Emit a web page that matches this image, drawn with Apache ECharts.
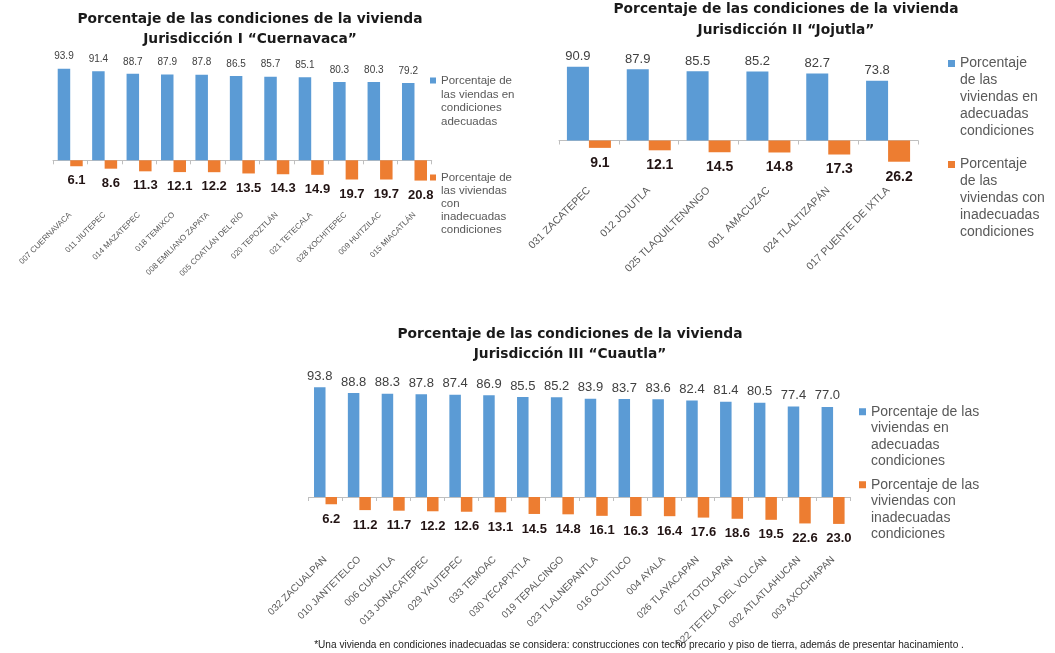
<!DOCTYPE html>
<html>
<head>
<meta charset="utf-8">
<script src="https://cdn.jsdelivr.net/npm/echarts@6/dist/echarts.min.js"></script>
<style>
html,body{margin:0;padding:0;background:#fff;}
#c{width:1055px;height:653px;}
</style>
</head>
<body>
<div id="c"></div>
<script>
// ---------- DATA ----------
var title1 = "Porcentaje de las condiciones de la vivienda\nJurisdicción I “Cuernavaca”";
var title2 = "Porcentaje de las condiciones de la vivienda\nJurisdicción II “Jojutla”";
var title3 = "Porcentaje de las condiciones de la vivienda\nJurisdicción III “Cuautla”";
var footnote = "*Una vivienda en condiciones inadecuadas se considera: construcciones con techo precario y piso de tierra, además de presentar hacinamiento .";

var cat1 = ["007 CUERNAVACA","011 JIUTEPEC","014 MAZATEPEC","018 TEMIXCO","008 EMILIANO ZAPATA","005 COATLÁN DEL RÍO","020 TEPOZTLÁN","021 TETECALA","028 XOCHITEPEC","009 HUITZILAC","015 MIACATLÁN"];
var adec1 = [93.9,91.4,88.7,87.9,87.8,86.5,85.7,85.1,80.3,80.3,79.2];
var inad1 = [6.1,8.6,11.3,12.1,12.2,13.5,14.3,14.9,19.7,19.7,20.8];
var name1a = "Porcentaje de\nlas viendas en\ncondiciones\nadecuadas";
var name1b = "Porcentaje de\nlas viviendas\ncon\ninadecuadas\ncondiciones";

var cat2 = ["031 ZACATEPEC","012 JOJUTLA","025 TLAQUILTENANGO","001  AMACUZAC","024 TLALTIZAPÁN","017 PUENTE DE IXTLA"];
var adec2 = [90.9,87.9,85.5,85.2,82.7,73.8];
var inad2 = [9.1,12.1,14.5,14.8,17.3,26.2];
var name2a = "Porcentaje\nde las\nviviendas en\nadecuadas\ncondiciones";
var name2b = "Porcentaje\nde las\nviviendas con\ninadecuadas\ncondiciones";

var cat3 = ["032 ZACUALPAN","010 JANTETELCO","006 CUAUTLA","013 JONACATEPEC","029 YAUTEPEC","033 TEMOAC","030 YECAPIXTLA","019 TEPALCINGO","023 TLALNEPANTLA","016 OCUITUCO","004 AYALA","026 TLAYACAPAN","027 TOTOLAPAN","022 TETELA DEL VOLCÁN","002 ATLATLAHUCAN","003 AXOCHIAPAN"];
var adec3 = [93.8,88.8,88.3,87.8,87.4,86.9,85.5,85.2,83.9,83.7,83.6,82.4,81.4,80.5,77.4,77.0];
var inad3 = [6.2,11.2,11.7,12.2,12.6,13.1,14.5,14.8,16.1,16.3,16.4,17.6,18.6,19.5,22.6,23.0];
var name3a = "Porcentaje de las\nviviendas en\nadecuadas\ncondiciones";
var name3b = "Porcentaje de las\nviviendas con\ninadecuadas\ncondiciones";

// ---------- STYLE ----------
var BLUE = "#5B9BD5", ORANGE = "#ED7D31";
var FONT = "Liberation Sans";
var AXIS = "#BFBFBF";

function neg(a){ return a.map(function(v){ return -v; }); }
function fmt(p){ return Math.abs(p.value).toFixed(1); }

function xAx(gi, cats, fs, margin){
  return {
    type: "category", gridIndex: gi, data: cats,
    axisLine: {show: true, onZero: true, lineStyle: {color: AXIS, width: 1}},
    axisTick: {show: true, length: 4, lineStyle: {color: AXIS}},
    axisLabel: {interval: 0, rotate: 45, margin: margin, fontSize: fs, color: "#595959", fontFamily: FONT},
    splitLine: {show: false}
  };
}
function yAx(gi){
  return {type: "value", gridIndex: gi, min: -30, max: 100, show: false, splitLine: {show: false}};
}
function blueS(name, gi, data, bw, fs, dist){
  return {
    name: name, type: "bar", xAxisIndex: gi, yAxisIndex: gi, data: data,
    barWidth: bw, barGap: "0%", itemStyle: {color: BLUE},
    label: {show: true, position: "top", distance: dist, formatter: fmt,
            fontSize: fs, color: "#404040", fontFamily: FONT}
  };
}
function orangeS(name, gi, data, bw, fs, dist){
  return {
    name: name, type: "bar", xAxisIndex: gi, yAxisIndex: gi, data: neg(data),
    barWidth: bw, barGap: "0%", itemStyle: {color: ORANGE},
    label: {show: true, position: "bottom", distance: dist, formatter: fmt,
            fontSize: fs, fontWeight: "bold", color: "#221414", fontFamily: FONT}
  };
}
// legend item whose square sits beside the first text line
function leg(name, left, firstY, lh, fs, s){
  var n = name.split("\n").length;
  var H = n * lh;
  var y1 = lh / 2 - s / 2, y2 = y1 + s;
  var icon = "path://M0,0L0.01,0Z" +
             "M0," + y1 + "L" + s + "," + y1 + "L" + s + "," + y2 + "L0," + y2 + "Z" +
             "M0," + H + "L0.01," + H + "Z";
  return {
    data: [name], orient: "vertical", left: left, top: firstY - lh / 2,
    padding: 0, itemWidth: s, itemHeight: H, icon: icon, selectedMode: false,
    itemStyle: {borderWidth: 0},
    textStyle: {fontSize: fs, lineHeight: lh, color: "#595959", fontFamily: FONT}
  };
}
function ttl(text, cx, top, lh){
  return {
    text: text, left: cx, top: top, textAlign: "center", padding: 0,
    textStyle: {fontFamily: "DejaVu Sans", fontWeight: "bold", fontSize: 13.8,
                lineHeight: lh, color: "#1a1a1a"}
  };
}

var chart = echarts.init(document.getElementById("c"), null, {renderer: "canvas"});
chart.setOption({
  animation: false,
  backgroundColor: "#ffffff",
  title: [
    ttl(title1, 250, 9, 20),
    ttl(title2, 786, -1, 21),
    ttl(title3, 570, 324, 20.3),
    {text: footnote, left: 639, top: 640, textAlign: "center", padding: 0,
     textStyle: {fontFamily: FONT, fontWeight: "normal", fontSize: 10.1, color: "#222"}}
  ],
  legend: [
    leg(name1a, 430, 80.5, 13.9, 11.5, 6),
    leg(name1b, 430, 177.5, 13.2, 11.5, 6),
    leg(name2a, 948, 63.5, 16.8, 14, 7),
    leg(name2b, 948, 164.5, 17, 14, 7),
    leg(name3a, 859, 411.7, 16.5, 14, 7),
    leg(name3b, 859, 484.8, 16.5, 14, 7)
  ],
  grid: [
    {left: 53, top: 62.8, width: 378.7, height: 126.75, outerBoundsMode: "none", containLabel: false},
    {left: 559, top: 59.5, width: 359, height: 105.3, outerBoundsMode: "none", containLabel: false},
    {left: 308.6, top: 380, width: 541.4, height: 152.1, outerBoundsMode: "none", containLabel: false}
  ],
  xAxis: [xAx(0, cat1, 8, 24), xAx(1, cat2, 10.5, 24), xAx(2, cat3, 10, 26)],
  yAxis: [yAx(0), yAx(1), yAx(2)],
  series: [
    blueS(name1a, 0, adec1, 12.5, 10, 7),
    orangeS(name1b, 0, inad1, 12.5, 13, 8),
    blueS(name2a, 1, adec2, 22, 13, 3.5),
    orangeS(name2b, 1, inad2, 22, 14, 8),
    blueS(name3a, 2, adec3, 11.5, 13, 4.5),
    orangeS(name3b, 2, inad3, 11.5, 13, 8.5)
  ]
});
</script>
</body>
</html>
